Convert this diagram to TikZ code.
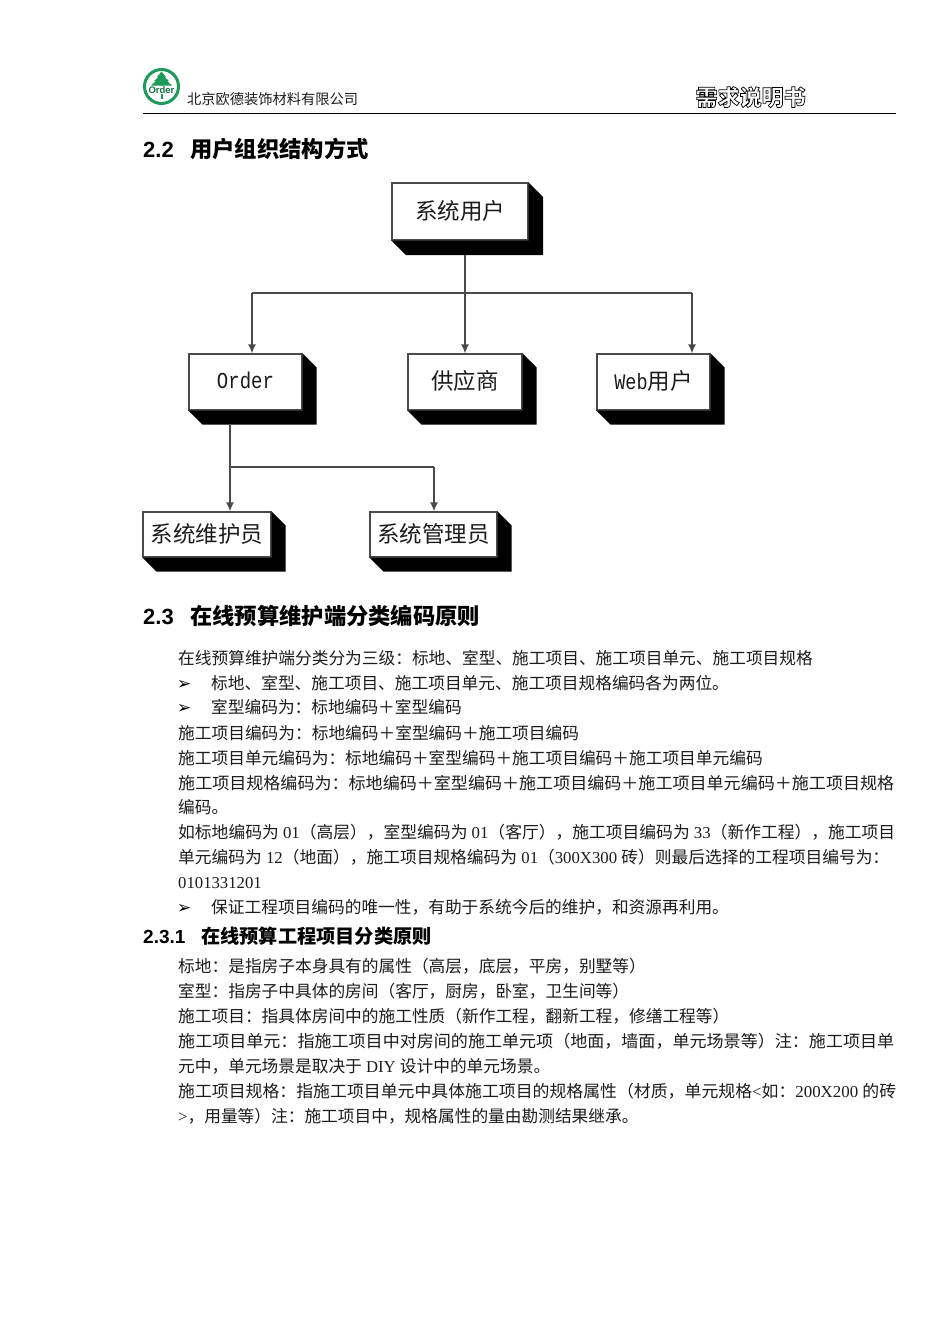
\documentclass[tikz,border=0pt]{standalone}
\usepackage{fontspec}
\usepackage{graphicx}
\usetikzlibrary{arrows.meta,calc}
\setmainfont{Liberation Serif}
\newfontfamily\cjk{Noto Sans CJK SC}
\newfontfamily\hel{Liberation Sans}
\newfontfamily\mono{Liberation Mono}
\newfontfamily\sym{DejaVu Sans}
\newcommand\lat[1]{{\rmfamily #1}}
\newcommand\fitw[2]{\resizebox{#1}{\height}{#2}}
\newcommand\tallmono[2]{\scalebox{1}[1.2]{\mono\fontsize{#1}{22}\selectfont #2}}
\definecolor{ordergreen}{HTML}{1E9A5A}
\definecolor{orderdark}{HTML}{14703F}
\definecolor{inkgrey}{HTML}{1C1C1C}
\definecolor{boxline}{HTML}{4A4A4A}
\tikzset{
  face/.style={draw=boxline,fill=white,line width=1.2pt,inner sep=0pt,text=inkgrey,font=\cjk\fontsize{22.5}{24}\selectfont},
  link/.style={draw=boxline,line width=1.4pt},
  arrowlink/.style={link,-{Latex[length=9pt,width=8pt]}},
  txt/.style={anchor=base west,inner sep=0pt,text=inkgrey,font=\cjk\fontsize{16.7}{20}\selectfont},
  bullet/.style={anchor=base west,inner sep=0pt,text=black,font=\sym\fontsize{17}{20}\selectfont},
  head/.style={anchor=base west,inner sep=0pt,text=black,font=\fontsize{22.3}{24}\selectfont\cjk\bfseries},
  headnum/.style={anchor=base west,inner sep=0pt,text=black,font=\fontsize{22}{24}\selectfont\hel\bfseries},
  subhead/.style={anchor=base west,inner sep=0pt,text=black,font=\fontsize{19.2}{22}\selectfont\cjk\bfseries},
  subnum/.style={anchor=base west,inner sep=0pt,text=black,font=\fontsize{19}{22}\selectfont\hel\bfseries},
}
% name, left, top, right, bottom, depth, text
\newcommand\shadowbox[7]{%
  \node[face,minimum width=#4pt-#2pt,minimum height=#5pt-#3pt] (#1) at ({(#2+#4)/2},{(#3+#5)/2}) {\raisebox{4pt}{#7}};
  \fill[black] (#1.north east) -- ++(#6,#6) -- ($(#1.south east)+(#6,#6)$) -- ($(#1.south west)+(#6,#6)$) -- (#1.south west) -- (#1.south east) -- cycle;
}
\begin{document}
\begin{tikzpicture}[x=1pt,y=-1pt]
\useasboundingbox (0,0) rectangle (950,1344);
\fill[white] (0,0) rectangle (950,1344);

% header: logo
\draw[ordergreen,line width=3pt] (161.5,86.5) ellipse (17 and 17);
\fill[ordergreen] (161.5,71.5) -- (166,77) -- (164.5,77) -- (169,81) -- (167,81) -- (172,85.5) -- (151,85.5) -- (156,81) -- (154,81) -- (158.5,77) -- (157,77) -- cycle;
\fill[ordergreen] (160.5,85) rectangle (162.5,99);
\node[inner sep=0.6pt,fill=white,text=orderdark,font=\hel\bfseries\fontsize{9.5}{9.5}\selectfont] (logotext) at (161.5,90) {Order};
\node[anchor=base west,inner sep=0pt,text=inkgrey,font=\cjk\fontsize{14.25}{16}\selectfont] (company) at (187,104) {北京欧德装饰材料有限公司};
\node[anchor=base west,inner sep=0pt,text=white,font=\cjk\bfseries\fontsize{22}{24}\selectfont] (doctitle) at (695.5,105.5) {\special{pdf:code 2 Tr 0.7 w 0 0 0 RG}需求说明书\special{pdf:code 0 Tr}};
\draw[black,line width=1.3pt] (143,113.8) -- (896,113.8);

% section 2.2
\node[headnum] (h22) at (143,157) {2.2};
\node[head] (h22t) at (190,157) {用户组织结构方式};

% diagram
\shadowbox{root}{392}{183}{528}{240}{14.5}{系统用户}
\shadowbox{order}{189}{354}{302}{410}{14}{\tallmono{19}{Order}}
\shadowbox{supplier}{408}{354}{522}{410}{14}{供应商}
\shadowbox{web}{597}{354}{710}{410}{14}{\tallmono{18.5}{Web}用户}
\shadowbox{maint}{143}{512}{271}{557}{14}{系统维护员}
\shadowbox{admin}{370}{512}{497}{557}{14}{系统管理员}

\coordinate (busm) at (465,293);
\coordinate (busl) at (252,293);
\coordinate (busr) at (692,293);
\coordinate (lowl) at (230,467);
\coordinate (lowr) at (434,467);
\draw[link] ([yshift=-14.5pt]busm |- root.south) -- (busm);
\draw[link] (busl) -- (busr);
\draw[arrowlink] (busl) -- (busl |- order.north);
\draw[arrowlink] (busm) -- (busm |- supplier.north);
\draw[arrowlink] (busr) -- (busr |- web.north);
\draw[link] ([yshift=-14pt]lowl |- order.south) -- (lowl);
\draw[link] (lowl) -- (lowr);
\draw[arrowlink] (lowl) -- (lowl |- maint.north);
\draw[arrowlink] (lowr) -- (lowr |- admin.north);

% section 2.3
\node[headnum] (h23) at (143,624) {2.3};
\node[head] (h23t) at (190,624) {在线预算维护端分类编码原则};

\node[txt] (l1) at (178,664.5) {在线预算维护端分类分为三级：标地、室型、施工项目、施工项目单元、施工项目规格};
\node[bullet] (b1) at (177,689) {➢};
\node[txt] (l2) at (211,689.5) {标地、室型、施工项目、施工项目单元、施工项目规格编码各为两位。};
\node[bullet] (b2) at (177,713) {➢};
\node[txt] (l3) at (211,713.5) {室型编码为：标地编码＋室型编码};
\node[txt] (l4) at (178,739.5) {施工项目编码为：标地编码＋室型编码＋施工项目编码};
\node[txt] (l5) at (178,764.5) {施工项目单元编码为：标地编码＋室型编码＋施工项目编码＋施工项目单元编码};
\node[txt] (l6) at (178,789.5) {\fitw{716pt}{施工项目规格编码为：标地编码＋室型编码＋施工项目编码＋施工项目单元编码＋施工项目规格}};
\node[txt] (l7) at (178,813.5) {编码。};
\node[txt] (l8) at (178,838.5) {\fitw{717pt}{如标地编码为\lat{ 01}（高层），室型编码为\lat{ 01}（客厅），施工项目编码为\lat{ 33}（新作工程），施工项目}};
\node[txt] (l9) at (178,863.5) {\fitw{711pt}{单元编码为\lat{ 12}（地面），施工项目规格编码为\lat{ 01}（\lat{300X300 }砖）则最后选择的工程项目编号为：}};
\node[txt] (l10) at (178,888.5) {\lat{0101331201}};
\node[bullet] (b3) at (177,913) {➢};
\node[txt] (l11) at (211,913.5) {保证工程项目编码的唯一性，有助于系统今后的维护，和资源再利用。};

\node[subnum] (h231) at (143,943) {2.3.1};
\node[subhead] (h231t) at (201,943) {在线预算工程项目分类原则};

\node[txt] (m1) at (178,972.5) {标地：是指房子本身具有的属性（高层，底层，平房，别墅等）};
\node[txt] (m2) at (178,997.5) {室型：指房子中具体的房间（客厅，厨房，卧室，卫生间等）};
\node[txt] (m3) at (178,1022.5) {施工项目：指具体房间中的施工性质（新作工程，翻新工程，修缮工程等）};
\node[txt] (m4) at (178,1047.5) {\fitw{716pt}{施工项目单元：指施工项目中对房间的施工单元项（地面，墙面，单元场景等）注：施工项目单}};
\node[txt] (m5) at (178,1072.5) {元中，单元场景是取决于\lat{ DIY }设计中的单元场景。};
\node[txt] (m6) at (178,1097.5) {\fitw{718pt}{施工项目规格：指施工项目单元中具体施工项目的规格属性（材质，单元规格\lat{<}如：\lat{200X200 }的砖}};
\node[txt] (m7) at (178,1122.5) {\lat{>}，用量等）注：施工项目中，规格属性的量由勘测结果继承。};
\end{tikzpicture}
\end{document}
